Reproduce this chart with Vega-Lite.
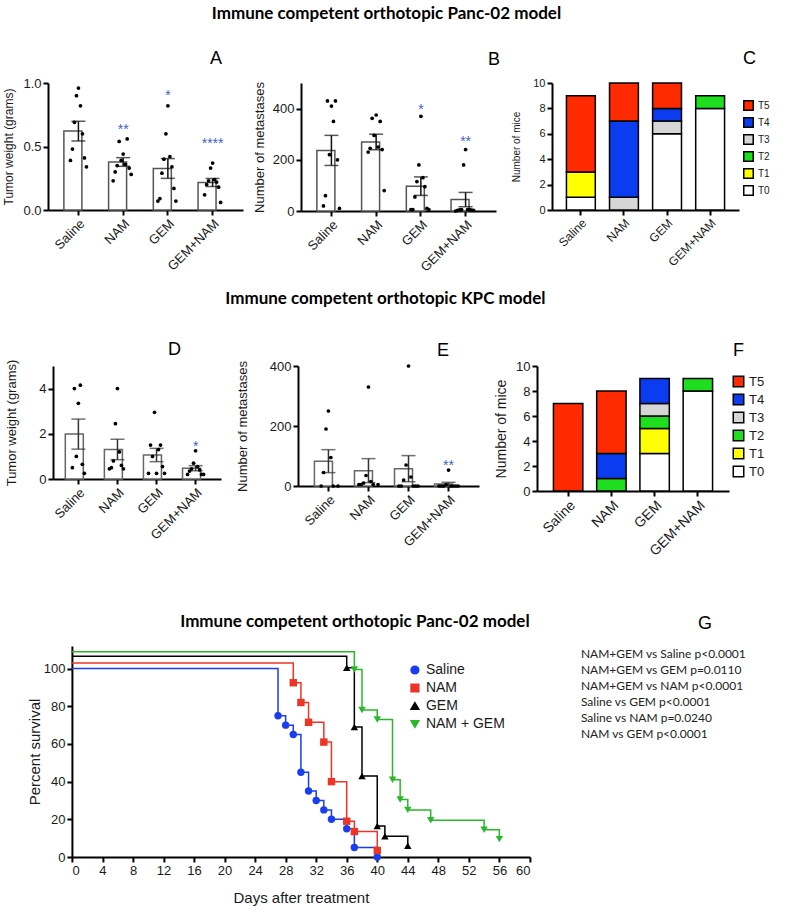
{
"$schema":"https://vega.github.io/schema/vega-lite/v6.json",
"background":"white",
"padding":{"left":2,"top":5,"right":2,"bottom":2},
"config":{
 "view":{"stroke":null},
 "font":"Liberation Sans",
 "axis":{"labelFont":"Liberation Sans","titleFont":"Liberation Sans","labelColor":"#1a1a1a","titleColor":"#1a1a1a","titleFontWeight":"normal","domainColor":"black","tickColor":"black","domainWidth":2,"tickWidth":2,"tickSize":5,"labelPadding":2,"grid":false,"labelOverlap":false},
 "title":{"font":"Lato","fontWeight":"bold","fontSize":17,"color":"black","anchor":"middle"},
 "legend":{"labelFont":"Liberation Sans","labelColor":"#1a1a1a"}
},
"datasets":{
 "A":[
  {"g":"Saline","m":6,"v":0.96},{"g":"Saline","m":5,"v":0.90},{"g":"Saline","m":7,"v":0.82},{"g":"Saline","m":4,"v":0.69},{"g":"Saline","m":8,"v":0.60},{"g":"Saline","m":3,"v":0.48},{"g":"Saline","m":9,"v":0.41},{"g":"Saline","m":2,"v":0.39},{"g":"Saline","m":10,"v":0.34},
  {"g":"NAM","m":8,"v":0.56},{"g":"NAM","m":4,"v":0.54},{"g":"NAM","m":6,"v":0.44},{"g":"NAM","m":5,"v":0.39},{"g":"NAM","m":7,"v":0.36},{"g":"NAM","m":3,"v":0.35},{"g":"NAM","m":9,"v":0.33},{"g":"NAM","m":2,"v":0.30},{"g":"NAM","m":10,"v":0.28},{"g":"NAM","m":1,"v":0.23},
  {"g":"GEM","m":6,"v":0.82},{"g":"GEM","m":5,"v":0.60},{"g":"GEM","m":7,"v":0.42},{"g":"GEM","m":4,"v":0.40},{"g":"GEM","m":8,"v":0.34},{"g":"GEM","m":3,"v":0.29},{"g":"GEM","m":9,"v":0.17},{"g":"GEM","m":2,"v":0.09},{"g":"GEM","m":10,"v":0.07},{"g":"GEM","m":1,"v":0.07},
  {"g":"GEM+NAM","m":6,"v":0.37},{"g":"GEM+NAM","m":5,"v":0.33},{"g":"GEM+NAM","m":7,"v":0.24},{"g":"GEM+NAM","m":4,"v":0.23},{"g":"GEM+NAM","m":8,"v":0.22},{"g":"GEM+NAM","m":3,"v":0.20},{"g":"GEM+NAM","m":9,"v":0.18},{"g":"GEM+NAM","m":2,"v":0.12},{"g":"GEM+NAM","m":10,"v":0.06}
 ],
 "sA":[{"g":"NAM","v":0.66,"s":"**"},{"g":"GEM","v":0.93,"s":"*"},{"g":"GEM+NAM","v":0.55,"s":"****"}],
 "B":[
  {"g":"Saline","m":4,"v":430},{"g":"Saline","m":8,"v":430},{"g":"Saline","m":6,"v":410},{"g":"Saline","m":7,"v":350},{"g":"Saline","m":5,"v":220},{"g":"Saline","m":9,"v":200},{"g":"Saline","m":3,"v":60},{"g":"Saline","m":2,"v":20},{"g":"Saline","m":10,"v":10},
  {"g":"NAM","m":6,"v":375},{"g":"NAM","m":4,"v":362},{"g":"NAM","m":8,"v":350},{"g":"NAM","m":5,"v":295},{"g":"NAM","m":7,"v":250},{"g":"NAM","m":3,"v":245},{"g":"NAM","m":9,"v":240},{"g":"NAM","m":2,"v":230},{"g":"NAM","m":10,"v":80},
  {"g":"GEM","m":6,"v":370},{"g":"GEM","m":5,"v":180},{"g":"GEM","m":7,"v":130},{"g":"GEM","m":4,"v":115},{"g":"GEM","m":8,"v":95},{"g":"GEM","m":3,"v":55},{"g":"GEM","m":9,"v":10},{"g":"GEM","m":2,"v":5},{"g":"GEM","m":10,"v":5},{"g":"GEM","m":1,"v":5},
  {"g":"GEM+NAM","m":6,"v":240},{"g":"GEM+NAM","m":5,"v":180},{"g":"GEM+NAM","m":7,"v":5},{"g":"GEM+NAM","m":4,"v":5},{"g":"GEM+NAM","m":8,"v":5},{"g":"GEM+NAM","m":3,"v":4},{"g":"GEM+NAM","m":9,"v":3},{"g":"GEM+NAM","m":2,"v":2},{"g":"GEM+NAM","m":10,"v":2},{"g":"GEM+NAM","m":1,"v":0}
 ],
 "sB":[{"g":"GEM","v":410,"s":"*"},{"g":"GEM+NAM","v":285,"s":"**"}],
 "C":[
  {"g":"Saline","t":"T0","n":1},{"g":"Saline","t":"T1","n":2},{"g":"Saline","t":"T5","n":6},
  {"g":"NAM","t":"T3","n":1},{"g":"NAM","t":"T4","n":6},{"g":"NAM","t":"T5","n":3},
  {"g":"GEM","t":"T0","n":6},{"g":"GEM","t":"T3","n":1},{"g":"GEM","t":"T4","n":1},{"g":"GEM","t":"T5","n":2},
  {"g":"GEM+NAM","t":"T0","n":8},{"g":"GEM+NAM","t":"T2","n":1}
 ],
 "D":[
  {"g":"Saline","m":7,"v":4.15},{"g":"Saline","m":4,"v":4.0},{"g":"Saline","m":6,"v":3.35},{"g":"Saline","m":5,"v":1.0},{"g":"Saline","m":8,"v":0.65},{"g":"Saline","m":3,"v":0.5},{"g":"Saline","m":9,"v":0.25},
  {"g":"NAM","m":6,"v":4.0},{"g":"NAM","m":5,"v":2.45},{"g":"NAM","m":7,"v":1.2},{"g":"NAM","m":4,"v":0.8},{"g":"NAM","m":8,"v":0.6},{"g":"NAM","m":3,"v":0.5},{"g":"NAM","m":9,"v":0.45},{"g":"NAM","m":2,"v":0.45},
  {"g":"GEM","m":5,"v":2.95},{"g":"GEM","m":3,"v":1.5},{"g":"GEM","m":8,"v":1.5},{"g":"GEM","m":7,"v":1.3},{"g":"GEM","m":4,"v":1.0},{"g":"GEM","m":9,"v":0.55},{"g":"GEM","m":2,"v":0.25},{"g":"GEM","m":6,"v":0.25},{"g":"GEM","m":10,"v":0.25},
  {"g":"GEM+NAM","m":6,"v":1.25},{"g":"GEM+NAM","m":5,"v":0.7},{"g":"GEM+NAM","m":7,"v":0.55},{"g":"GEM+NAM","m":4,"v":0.45},{"g":"GEM+NAM","m":8,"v":0.4},{"g":"GEM+NAM","m":3,"v":0.35},{"g":"GEM+NAM","m":9,"v":0.2},{"g":"GEM+NAM","m":2,"v":0.2},{"g":"GEM+NAM","m":10,"v":0.2}
 ],
 "sD":[{"g":"GEM+NAM","v":1.6,"s":"*"}],
 "E":[
  {"g":"Saline","m":6,"v":250},{"g":"Saline","m":5,"v":190},{"g":"Saline","m":7,"v":95},{"g":"Saline","m":4,"v":45},{"g":"Saline","m":8,"v":0},{"g":"Saline","m":3,"v":0},{"g":"Saline","m":10,"v":0},
  {"g":"NAM","m":6,"v":330},{"g":"NAM","m":5,"v":35},{"g":"NAM","m":7,"v":15},{"g":"NAM","m":4,"v":10},{"g":"NAM","m":8,"v":5},{"g":"NAM","m":2,"v":5},{"g":"NAM","m":10,"v":5},{"g":"NAM","m":3,"v":5},
  {"g":"GEM","m":6,"v":400},{"g":"GEM","m":5,"v":70},{"g":"GEM","m":7,"v":30},{"g":"GEM","m":4,"v":20},{"g":"GEM","m":8,"v":0},{"g":"GEM","m":3,"v":0},{"g":"GEM","m":9,"v":0},{"g":"GEM","m":2,"v":0},{"g":"GEM","m":10,"v":0},
  {"g":"GEM+NAM","m":6,"v":53},{"g":"GEM+NAM","m":5,"v":5},{"g":"GEM+NAM","m":7,"v":0},{"g":"GEM+NAM","m":4,"v":0},{"g":"GEM+NAM","m":8,"v":0},{"g":"GEM+NAM","m":3,"v":0},{"g":"GEM+NAM","m":9,"v":0},{"g":"GEM+NAM","m":2,"v":0},{"g":"GEM+NAM","m":10,"v":0}
 ],
 "sE":[{"g":"GEM+NAM","v":80,"s":"**"}],
 "F":[
  {"g":"Saline","t":"T5","n":7},
  {"g":"NAM","t":"T2","n":1},{"g":"NAM","t":"T4","n":2},{"g":"NAM","t":"T5","n":5},
  {"g":"GEM","t":"T0","n":3},{"g":"GEM","t":"T1","n":2},{"g":"GEM","t":"T2","n":1},{"g":"GEM","t":"T3","n":1},{"g":"GEM","t":"T4","n":2},
  {"g":"GEM+NAM","t":"T0","n":8},{"g":"GEM+NAM","t":"T2","n":1}
 ],
 "surv":[
  {"g":"Saline","d":0,"s":100},{"g":"Saline","d":27,"s":75},{"g":"Saline","d":28,"s":70},{"g":"Saline","d":29,"s":65},{"g":"Saline","d":30,"s":45},{"g":"Saline","d":31,"s":35},{"g":"Saline","d":32,"s":30},{"g":"Saline","d":33,"s":25},{"g":"Saline","d":34,"s":20},{"g":"Saline","d":36,"s":15},{"g":"Saline","d":37,"s":5},{"g":"Saline","d":40,"s":0},
  {"g":"NAM","d":0,"s":103},{"g":"NAM","d":29,"s":92.5},{"g":"NAM","d":30,"s":82},{"g":"NAM","d":31,"s":71.5},{"g":"NAM","d":33,"s":61},{"g":"NAM","d":34,"s":40},{"g":"NAM","d":36,"s":19},{"g":"NAM","d":37,"s":13.5},{"g":"NAM","d":40,"s":3.5},
  {"g":"GEM","d":0,"s":106.5},{"g":"GEM","d":36,"s":100.5},{"g":"GEM","d":37,"s":69},{"g":"GEM","d":38,"s":43},{"g":"GEM","d":40,"s":16.5},{"g":"GEM","d":41,"s":11},{"g":"GEM","d":44,"s":6},
  {"g":"NAM + GEM","d":0,"s":109},{"g":"NAM + GEM","d":37,"s":99.5},{"g":"NAM + GEM","d":38,"s":78},{"g":"NAM + GEM","d":40,"s":73},{"g":"NAM + GEM","d":42,"s":41},{"g":"NAM + GEM","d":43,"s":30.5},{"g":"NAM + GEM","d":44,"s":25},{"g":"NAM + GEM","d":47,"s":19.5},{"g":"NAM + GEM","d":54,"s":14.5},{"g":"NAM + GEM","d":56,"s":9.5}
 ],
 "stats":[
  {"i":1,"t":"NAM+GEM vs Saline p<0.0001"},{"i":2,"t":"NAM+GEM vs GEM p=0.0110"},{"i":3,"t":"NAM+GEM vs NAM p<0.0001"},{"i":4,"t":"Saline vs GEM p<0.0001"},{"i":5,"t":"Saline vs NAM p=0.0240"},{"i":6,"t":"NAM vs GEM p<0.0001"}
 ]
},
"resolve":{"scale":{"color":"independent","shape":"independent","xOffset":"independent"},"legend":{"color":"independent","shape":"independent"}},
"vconcat":[
 {"resolve":{"scale":{"color":"independent","shape":"independent","xOffset":"independent"},"legend":{"color":"independent","shape":"independent"}},
  "vconcat":[
  {"title":{"text":"Immune competent orthotopic Panc-02 model","offset":27},
   "spacing":10,
   "resolve":{"scale":{"color":"independent","shape":"independent","xOffset":"independent"},"legend":{"color":"independent","shape":"independent"}},
   "hconcat":[
    {"width":195,"height":127,
     "title":{"text":"A","anchor":"start","frame":"group","dx":162,"offset":9,"fontSize":18,"font":"Liberation Sans","fontWeight":"normal"},
     "data":{"name":"A"},
     "encoding":{"x":{"field":"g","type":"nominal","sort":["Saline","NAM","GEM","GEM+NAM"],"scale":{"paddingInner":0,"paddingOuter":0.18},"axis":{"title":null,"labelAngle":-45,"labelFontSize":13}}},
     "layer":[
      {"mark":{"type":"bar","fill":"white","stroke":"#555","strokeWidth":1.5,"width":{"band":0.65}},
       "encoding":{"y":{"aggregate":"mean","field":"v","type":"quantitative","title":"Tumor weight (grams)","scale":{"domain":[0,1]},"axis":{"values":[0,0.5,1],"format":".1f","titleFontSize":12,"labelFontSize":13,"titlePadding":7}}}},
      {"mark":{"type":"errorbar","extent":"stderr","ticks":{"size":14},"color":"#111","thickness":1.5},
       "encoding":{"y":{"field":"v","type":"quantitative","title":"Tumor weight (grams)","scale":{"domain":[0,1]}}}},
      {"mark":{"type":"circle","color":"black","size":14,"opacity":1},
       "encoding":{"xOffset":{"field":"m","type":"ordinal","scale":{"type":"point","padding":0,"range":[12.4,32.4],"domain":[1,2,3,4,5,6,7,8,9,10,11]}},"y":{"field":"v","type":"quantitative","title":"Tumor weight (grams)","scale":{"domain":[0,1]}}}},
      {"data":{"name":"sA"},"mark":{"type":"text","color":"#3e63c8","fontSize":14,"baseline":"middle","dy":4},
       "encoding":{"y":{"field":"v","type":"quantitative","title":"Tumor weight (grams)","scale":{"domain":[0,1]}},"text":{"field":"s"}}}
     ]},
    {"width":195,"height":128,
     "title":{"text":"B","anchor":"start","frame":"group","dx":187,"offset":13,"fontSize":18,"font":"Liberation Sans","fontWeight":"normal"},
     "data":{"name":"B"},
     "encoding":{"x":{"field":"g","type":"nominal","sort":["Saline","NAM","GEM","GEM+NAM"],"scale":{"paddingInner":0,"paddingOuter":0.18},"axis":{"title":null,"labelAngle":-45,"labelFontSize":13}}},
     "layer":[
      {"mark":{"type":"bar","fill":"white","stroke":"#555","strokeWidth":1.5,"width":{"band":0.65}},
       "encoding":{"y":{"aggregate":"mean","field":"v","type":"quantitative","title":"Number of metastases","scale":{"domain":[0,500]},"axis":{"values":[0,100,200,300,400,500],"titleFontSize":13,"labelFontSize":13,"titlePadding":6}}}},
      {"mark":{"type":"errorbar","extent":"stderr","ticks":{"size":14},"color":"#111","thickness":1.5},
       "encoding":{"y":{"field":"v","type":"quantitative","title":"Number of metastases","scale":{"domain":[0,500]}}}},
      {"mark":{"type":"circle","color":"black","size":14,"opacity":1},
       "encoding":{"xOffset":{"field":"m","type":"ordinal","scale":{"type":"point","padding":0,"range":[12.4,32.4],"domain":[1,2,3,4,5,6,7,8,9,10,11]}},"y":{"field":"v","type":"quantitative","title":"Number of metastases","scale":{"domain":[0,500]}}}},
      {"data":{"name":"sB"},"mark":{"type":"text","color":"#3e63c8","fontSize":14,"baseline":"middle","dy":4},
       "encoding":{"y":{"field":"v","type":"quantitative","title":"Number of metastases","scale":{"domain":[0,500]}},"text":{"field":"s"}}}
     ]},
    {"width":187,"height":127,
     "title":{"text":"C","anchor":"start","frame":"group","dx":191,"offset":9,"fontSize":18,"font":"Liberation Sans","fontWeight":"normal"},
     "data":{"name":"C"},
     "mark":{"type":"bar","stroke":"black","strokeWidth":1.5,"width":{"band":0.67}},
     "encoding":{
      "x":{"field":"g","type":"nominal","sort":["Saline","NAM","GEM","GEM+NAM"],"scale":{"paddingInner":0,"paddingOuter":0.17},"axis":{"title":null,"labelAngle":-45,"labelFontSize":12}},
      "y":{"field":"n","type":"quantitative","stack":"zero","title":"Number of mice","scale":{"domain":[0,10]},"axis":{"values":[0,2,4,6,8,10],"titleFontSize":10,"labelFontSize":11,"titlePadding":11}},
      "color":{"field":"t","type":"nominal","scale":{"domain":["T5","T4","T3","T2","T1","T0"],"range":["#ff2a00","#0b3cf0","#d6d6d6","#1fdd1f","#ffff00","#ffffff"]},
       "legend":{"title":null,"orient":"none","legendX":191,"legendY":17,"symbolType":"square","symbolSize":90,"symbolStrokeColor":"black","symbolStrokeWidth":1.5,"labelFontSize":10,"rowPadding":0}},
      "order":{"field":"t","sort":"ascending"}
     }}
   ]},
  {"title":{"text":"Immune competent orthotopic KPC model","offset":33},
   "spacing":15,
   "resolve":{"scale":{"color":"independent","shape":"independent","xOffset":"independent"},"legend":{"color":"independent","shape":"independent"}},
   "hconcat":[
    {"width":168,"height":113,
     "title":{"text":"D","anchor":"start","frame":"group","dx":115,"offset":0,"fontSize":18,"font":"Liberation Sans","fontWeight":"normal"},
     "data":{"name":"D"},
     "encoding":{"x":{"field":"g","type":"nominal","sort":["Saline","NAM","GEM","GEM+NAM"],"scale":{"paddingInner":0,"paddingOuter":0.15},"axis":{"title":null,"labelAngle":-45,"labelFontSize":13}}},
     "layer":[
      {"mark":{"type":"bar","fill":"white","stroke":"#666","strokeWidth":1.5,"width":{"band":0.67}},
       "encoding":{"y":{"aggregate":"mean","field":"v","type":"quantitative","title":"Tumor weight (grams)","scale":{"domain":[0,5]},"axis":{"values":[0,1,2,3,4,5],"titleFontSize":13,"labelFontSize":13,"titlePadding":20}}}},
      {"mark":{"type":"errorbar","extent":"stderr","ticks":{"size":14},"color":"#333","thickness":1.5},
       "encoding":{"y":{"field":"v","type":"quantitative","title":"Tumor weight (grams)","scale":{"domain":[0,5]}}}},
      {"mark":{"type":"circle","color":"black","size":14,"opacity":1},
       "encoding":{"xOffset":{"field":"m","type":"ordinal","scale":{"type":"point","padding":0,"range":[9.5,29.5],"domain":[1,2,3,4,5,6,7,8,9,10,11]}},"y":{"field":"v","type":"quantitative","title":"Tumor weight (grams)","scale":{"domain":[0,5]}}}},
      {"data":{"name":"sD"},"mark":{"type":"text","color":"#3e63c8","fontSize":14,"baseline":"middle","dy":4},
       "encoding":{"y":{"field":"v","type":"quantitative","title":"Tumor weight (grams)","scale":{"domain":[0,5]}},"text":{"field":"s"}}}
     ]},
    {"width":181,"height":120,
     "title":{"text":"E","anchor":"start","frame":"group","dx":139,"offset":0,"fontSize":18,"font":"Liberation Sans","fontWeight":"normal"},
     "data":{"name":"E"},
     "encoding":{"x":{"field":"g","type":"nominal","sort":["Saline","NAM","GEM","GEM+NAM"],"scale":{"paddingInner":0,"paddingOuter":0.26},"axis":{"title":null,"labelAngle":-45,"labelFontSize":13}}},
     "layer":[
      {"mark":{"type":"bar","fill":"white","stroke":"#666","strokeWidth":1.5,"width":{"band":0.7}},
       "encoding":{"y":{"aggregate":"mean","field":"v","type":"quantitative","title":"Number of metastases","scale":{"domain":[0,400]},"axis":{"values":[0,100,200,300,400],"titleFontSize":13,"labelFontSize":13,"titlePadding":20}}}},
      {"mark":{"type":"errorbar","extent":"stderr","ticks":{"size":14},"color":"#333","thickness":1.5},
       "encoding":{"y":{"field":"v","type":"quantitative","title":"Number of metastases","scale":{"domain":[0,400]}}}},
      {"mark":{"type":"circle","color":"black","size":14,"opacity":1},
       "encoding":{"xOffset":{"field":"m","type":"ordinal","scale":{"type":"point","padding":0,"range":[8,32],"domain":[1,2,3,4,5,6,7,8,9,10,11]}},"y":{"field":"v","type":"quantitative","title":"Number of metastases","scale":{"domain":[0,400]}}}},
      {"data":{"name":"sE"},"mark":{"type":"text","color":"#3e63c8","fontSize":14,"baseline":"middle","dy":4},
       "encoding":{"y":{"field":"v","type":"quantitative","title":"Number of metastases","scale":{"domain":[0,400]}},"text":{"field":"s"}}}
     ]},
    {"width":192,"height":125,
     "title":{"text":"F","anchor":"start","frame":"group","dx":196,"offset":0,"fontSize":18,"font":"Liberation Sans","fontWeight":"normal"},
     "data":{"name":"F"},
     "mark":{"type":"bar","stroke":"black","strokeWidth":1.5,"width":{"band":0.68}},
     "encoding":{
      "x":{"field":"g","type":"nominal","sort":["Saline","NAM","GEM","GEM+NAM"],"scale":{"paddingInner":0,"paddingOuter":0.22},"axis":{"title":null,"labelAngle":-45,"labelFontSize":14}},
      "y":{"field":"n","type":"quantitative","stack":"zero","title":"Number of mice","scale":{"domain":[0,10]},"axis":{"values":[0,2,4,6,8,10],"titleFontSize":14,"labelFontSize":13,"titlePadding":7}},
      "color":{"field":"t","type":"nominal","scale":{"domain":["T5","T4","T3","T2","T1","T0"],"range":["#ff2a00","#0b3cf0","#d6d6d6","#1fdd1f","#ffff00","#ffffff"]},
       "legend":{"title":null,"orient":"none","legendX":195,"legendY":9,"symbolType":"square","symbolSize":110,"symbolStrokeColor":"black","symbolStrokeWidth":1.5,"labelFontSize":13,"rowPadding":1}},
      "order":{"field":"t","sort":"ascending"}
     }}
   ]}
 ],"spacing":16,"center":true},
 {"spacing":50,
  "resolve":{"scale":{"color":"independent","shape":"independent","xOffset":"independent"},"legend":{"color":"independent","shape":"independent"}},
  "hconcat":[
   {"width":458,"height":211,
    "title":{"text":"Immune competent orthotopic Panc-02 model","frame":"group","anchor":"middle","dx":54,"offset":15},
    "data":{"name":"surv"},
    "encoding":{
     "x":{"field":"d","type":"quantitative","title":"Days after treatment","scale":{"domain":[0,60],"nice":false},"axis":{"values":[0,4,8,12,16,20,24,28,32,36,40,44,48,52,56,60],"titleFontSize":15,"labelFontSize":13,"titlePadding":13}},
     "y":{"field":"s","type":"quantitative","title":"Percent survival","scale":{"domain":[0,112],"nice":false},"axis":{"values":[0,20,40,60,80,100],"titleFontSize":15,"labelFontSize":13,"titlePadding":1}},
     "color":{"field":"g","type":"nominal","scale":{"domain":["Saline","NAM","GEM","NAM + GEM"],"range":["#1b3df0","#ee3424","#000000","#2ab82a"]},
      "legend":{"title":null,"orient":"none","legendX":336,"legendY":17,"labelFontSize":14,"symbolSize":60,"rowPadding":4}}
    },
    "layer":[
     {"mark":{"type":"line","interpolate":"step-after","strokeWidth":1.5}},
     {"transform":[{"filter":"datum.d > 0"}],
      "mark":{"type":"point","filled":true,"size":55,"opacity":1},
      "encoding":{"shape":{"field":"g","type":"nominal","scale":{"domain":["Saline","NAM","GEM","NAM + GEM"],"range":["circle","square","triangle-up","triangle-down"]},
       "legend":{"title":null,"orient":"none","legendX":336,"legendY":17,"labelFontSize":14,"symbolSize":60,"rowPadding":4}}}}
    ]},
   {"width":160,"height":96,
    "title":{"text":"G","anchor":"start","frame":"group","dx":117,"offset":13,"fontSize":18,"font":"Liberation Sans","fontWeight":"normal"},
    "data":{"name":"stats"},
    "mark":{"type":"text","align":"left","font":"Lato","fontSize":12,"color":"#222"},
    "encoding":{"y":{"field":"i","type":"ordinal","axis":null},"x":{"value":0},"text":{"field":"t"}}}
  ]}
],
"spacing":54,
"center":true
}
